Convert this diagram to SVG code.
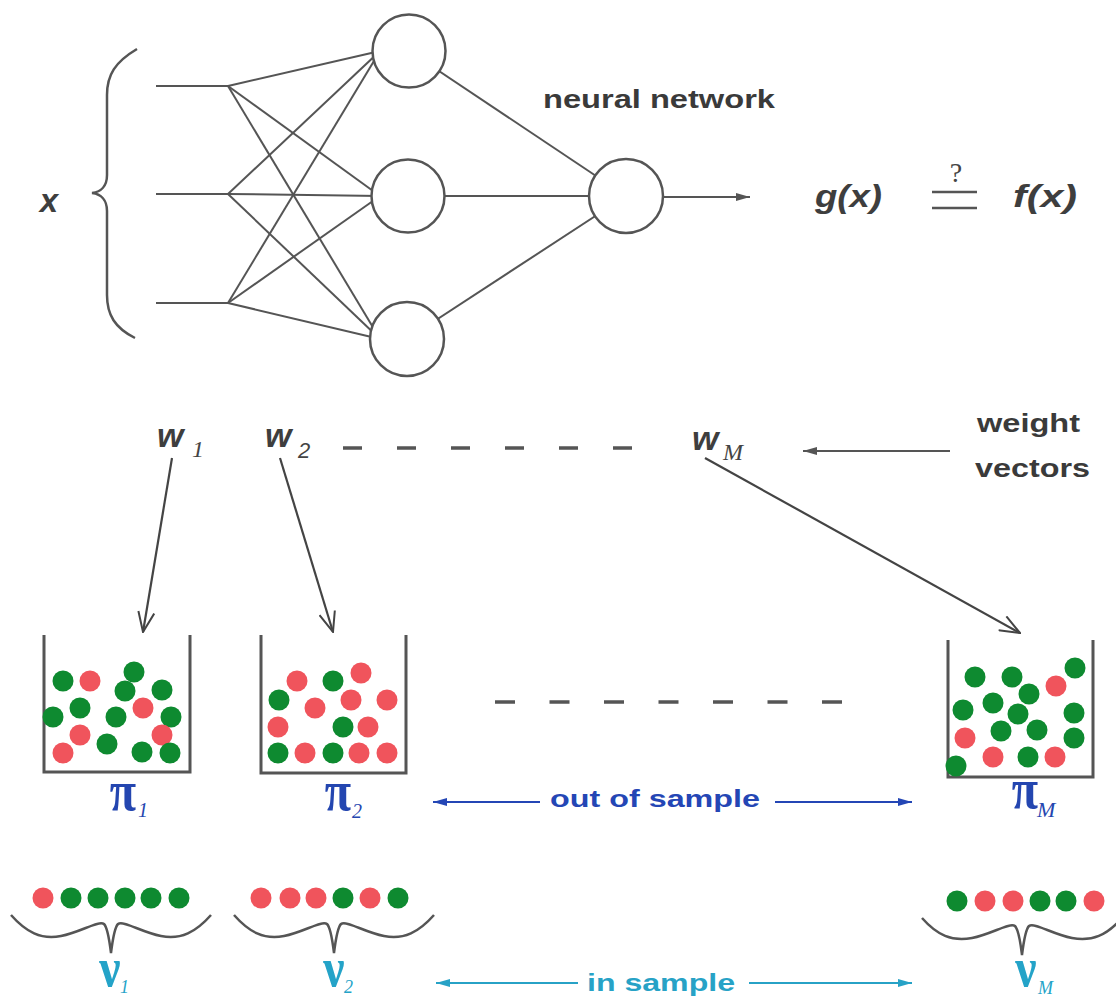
<svg xmlns="http://www.w3.org/2000/svg" width="1116" height="1000" viewBox="0 0 1116 1000">
<style>
.ln{stroke:#555;stroke-width:2;fill:none}
.node{fill:#fff;stroke:#555;stroke-width:2.5}
.lbl{font-family:"Liberation Sans",Arial,sans-serif;font-weight:bold;fill:#3a3a3a}
.math{font-family:"Liberation Sans",Arial,sans-serif;font-weight:bold;font-style:italic;fill:#3e3e3e}
.subs{font-family:"Liberation Sans",Arial,sans-serif;font-style:italic;fill:#444}
.subM{font-family:"Liberation Serif","Times New Roman",serif;font-style:italic;fill:#444}
.bin{fill:none;stroke:#555;stroke-width:3}
.g{fill:#0e8a30}
.r{fill:#f0545c}
.dash{stroke:#555;stroke-width:3.5}
.brace{fill:none;stroke:#555;stroke-width:2.5}
.pi{font-family:"Liberation Serif","Times New Roman",serif;fill:#2446b0}
.nu{font-family:"Liberation Serif","Times New Roman",serif;fill:#24a3c8}
.big{font-weight:bold;font-size:48px}
.bignu{font-weight:bold;font-size:56px}
.blue{fill:#2446b5}
.cyan{fill:#27a2c6}
</style>
<defs>
<marker id="open" viewBox="0 0 22 18" refX="21" refY="9" markerWidth="22" markerHeight="18" markerUnits="userSpaceOnUse" orient="auto">
<path d="M1,1 L21,9 L1,17" fill="none" stroke="#444" stroke-width="2"/>
</marker>
<marker id="ag" viewBox="0 0 14 8" refX="14" refY="4" markerWidth="14" markerHeight="8" markerUnits="userSpaceOnUse" orient="auto">
<path d="M0,0 L14,4 L0,8 z" fill="#555"/>
</marker>
<marker id="ab" viewBox="0 0 14 8" refX="14" refY="4" markerWidth="14" markerHeight="8" markerUnits="userSpaceOnUse" orient="auto">
<path d="M0,0 L14,4 L0,8 z" fill="#2446b5"/>
</marker>
<marker id="ac" viewBox="0 0 14 8" refX="14" refY="4" markerWidth="14" markerHeight="8" markerUnits="userSpaceOnUse" orient="auto">
<path d="M0,0 L14,4 L0,8 z" fill="#27a2c6"/>
</marker>
</defs>
<rect width="1116" height="1000" fill="#fff"/>

<g id="connectors">
<line class="ln" x1="156" y1="86" x2="228" y2="86"/>
<line class="ln" x1="156" y1="194" x2="228" y2="194"/>
<line class="ln" x1="156" y1="303" x2="228" y2="303"/>
<line class="ln" x1="228" y1="86" x2="380" y2="51"/>
<line class="ln" x1="228" y1="86" x2="380" y2="196"/>
<line class="ln" x1="228" y1="86" x2="380" y2="339"/>
<line class="ln" x1="228" y1="194" x2="380" y2="51"/>
<line class="ln" x1="228" y1="194" x2="380" y2="196"/>
<line class="ln" x1="228" y1="194" x2="380" y2="339"/>
<line class="ln" x1="228" y1="303" x2="380" y2="51"/>
<line class="ln" x1="228" y1="303" x2="380" y2="196"/>
<line class="ln" x1="228" y1="303" x2="380" y2="339"/>
<line class="ln" x1="409" y1="51" x2="626" y2="196"/>
<line class="ln" x1="408" y1="196" x2="626" y2="196"/>
<line class="ln" x1="407" y1="339" x2="626" y2="196"/>
<line class="ln" x1="663" y1="197" x2="750" y2="197" marker-end="url(#ag)"/>
<line class="ln" x1="950" y1="451" x2="803" y2="451" marker-end="url(#ag)"/>
<line x1="172" y1="458" x2="143" y2="632" stroke="#444" stroke-width="2.2" marker-end="url(#open)"/>
<line x1="280" y1="458" x2="333" y2="632" stroke="#444" stroke-width="2.2" marker-end="url(#open)"/>
<line x1="705" y1="458" x2="1020" y2="633" stroke="#444" stroke-width="2.2" marker-end="url(#open)"/>
<line x1="540" y1="802" x2="433" y2="802" stroke="#2446b5" stroke-width="2" marker-end="url(#ab)"/>
<line x1="775" y1="802" x2="912" y2="802" stroke="#2446b5" stroke-width="2" marker-end="url(#ab)"/>
<line x1="578" y1="983" x2="436" y2="983" stroke="#27a2c6" stroke-width="2" marker-end="url(#ac)"/>
<line x1="749" y1="983" x2="912" y2="983" stroke="#27a2c6" stroke-width="2" marker-end="url(#ac)"/>
</g>

<g id="input-x">
<text class="math" x="49" y="212" font-size="33" text-anchor="middle">x</text>
<path class="brace" d="M137 49 C115 62 107 75 107 95 L107 175 C107 186 101 192 92 193 C101 194 107 200 107 211 L107 295 C107 315 115 328 135 338"/>
</g>

<g id="hidden-1"><circle class="node" cx="409" cy="51" r="36.5"/></g>
<g id="hidden-2"><circle class="node" cx="408" cy="196" r="36.5"/></g>
<g id="hidden-3"><circle class="node" cx="407" cy="339" r="37"/></g>
<g id="output"><circle class="node" cx="626" cy="196" r="37"/></g>

<g id="nn-label"><text class="lbl" x="543" y="108" font-size="26" textLength="232" lengthAdjust="spacingAndGlyphs">neural network</text></g>

<g id="equation">
<text class="math" x="815" y="207" font-size="32" textLength="67" lengthAdjust="spacingAndGlyphs">g(x)</text>
<text x="956" y="182" font-size="28" text-anchor="middle" font-family="Liberation Serif, Times New Roman, serif" fill="#444">?</text>
<line x1="932" y1="192" x2="977" y2="192" stroke="#555" stroke-width="2.5"/>
<line x1="932" y1="208" x2="977" y2="208" stroke="#555" stroke-width="2.5"/>
<text class="math" x="1013" y="207" font-size="32" textLength="64" lengthAdjust="spacingAndGlyphs">f(x)</text>
</g>

<g id="w1"><text class="math" x="157" y="447" font-size="34">w</text><text class="subM" x="192" y="457" font-size="24">1</text></g>
<g id="w2"><text class="math" x="265" y="447" font-size="34">w</text><text class="subs" x="298" y="458" font-size="22">2</text></g>
<g id="w-dashes"><line class="dash" x1="343" y1="448" x2="633" y2="448" stroke-dasharray="19 35"/></g>
<g id="wM"><text class="math" x="692" y="450" font-size="34">w</text><text class="subM" x="723" y="460" font-size="24">M</text></g>
<g id="weight-label">
<text class="lbl" x="977" y="432" font-size="26" textLength="103" lengthAdjust="spacingAndGlyphs">weight</text>
<text class="lbl" x="975" y="477" font-size="26" textLength="115" lengthAdjust="spacingAndGlyphs">vectors</text>
</g>

<g id="bin1">
<path class="bin" d="M44 635 V772 H190 V635"/>
<circle class="g" cx="63" cy="681" r="10.5"/><circle class="r" cx="90" cy="681" r="10.5"/>
<circle class="g" cx="134" cy="672" r="10.5"/><circle class="g" cx="125" cy="691" r="10.5"/>
<circle class="g" cx="162" cy="690" r="10.5"/><circle class="g" cx="80" cy="708" r="10.5"/>
<circle class="g" cx="53" cy="717" r="10.5"/><circle class="g" cx="116" cy="717" r="10.5"/>
<circle class="r" cx="143" cy="708" r="10.5"/><circle class="g" cx="171" cy="717" r="10.5"/>
<circle class="r" cx="80" cy="735" r="10.5"/><circle class="r" cx="162" cy="735" r="10.5"/>
<circle class="g" cx="107" cy="744" r="10.5"/><circle class="r" cx="63" cy="753" r="10.5"/>
<circle class="g" cx="142" cy="752" r="10.5"/><circle class="g" cx="170" cy="753" r="10.5"/>
<text class="pi big" text-anchor="middle" transform="translate(123 810) scale(1 1.2)">π</text><text class="pi" x="138" y="817" font-size="20" font-style="italic">1</text>
</g>

<g id="bin2">
<path class="bin" d="M261 635 V773 H406 V635"/>
<circle class="r" cx="297" cy="681" r="10.5"/><circle class="r" cx="361" cy="673" r="10.5"/>
<circle class="g" cx="333" cy="681" r="10.5"/><circle class="g" cx="279" cy="700" r="10.5"/>
<circle class="r" cx="351" cy="700" r="10.5"/><circle class="r" cx="387" cy="700" r="10.5"/>
<circle class="r" cx="315" cy="708" r="10.5"/><circle class="r" cx="278" cy="727" r="10.5"/>
<circle class="g" cx="343" cy="727" r="10.5"/><circle class="r" cx="368" cy="727" r="10.5"/>
<circle class="g" cx="278" cy="753" r="10.5"/><circle class="r" cx="305" cy="753" r="10.5"/>
<circle class="g" cx="333" cy="753" r="10.5"/><circle class="r" cx="359" cy="753" r="10.5"/>
<circle class="r" cx="387" cy="753" r="10.5"/>
<text class="pi big" text-anchor="middle" transform="translate(338 810) scale(1 1.2)">π</text><text class="pi" x="352" y="818" font-size="20" font-style="italic">2</text>
</g>

<g id="bin-dashes"><line class="dash" x1="495" y1="702" x2="842" y2="702" stroke-dasharray="20 34.5"/></g>

<g id="binM">
<path class="bin" d="M948 640 V777 H1093 V640"/>
<circle class="g" cx="975" cy="677" r="10.5"/><circle class="g" cx="1012" cy="677" r="10.5"/>
<circle class="g" cx="1075" cy="668" r="10.5"/><circle class="r" cx="1056" cy="686" r="10.5"/>
<circle class="g" cx="1029" cy="694" r="10.5"/><circle class="g" cx="993" cy="703" r="10.5"/>
<circle class="g" cx="963" cy="710" r="10.5"/><circle class="g" cx="1018" cy="714" r="10.5"/>
<circle class="g" cx="1074" cy="713" r="10.5"/><circle class="g" cx="1001" cy="731" r="10.5"/>
<circle class="g" cx="1037" cy="730" r="10.5"/><circle class="g" cx="1074" cy="738" r="10.5"/>
<circle class="r" cx="965" cy="738" r="10.5"/><circle class="r" cx="993" cy="757" r="10.5"/>
<circle class="g" cx="1028" cy="757" r="10.5"/><circle class="r" cx="1055" cy="757" r="10.5"/>
<circle class="g" cx="956" cy="766" r="10.5"/>
<text class="pi big" text-anchor="middle" transform="translate(1025 808) scale(1 1.2)">π</text><text class="pi" x="1037" y="817" font-size="22" font-style="italic">M</text>
</g>

<g id="out-sample-label"><text class="lbl blue" x="550" y="807" font-size="24" textLength="210" lengthAdjust="spacingAndGlyphs">out of sample</text></g>

<g id="sample1">
<circle class="r" cx="43" cy="898" r="10.5"/><circle class="g" cx="71" cy="898" r="10.5"/>
<circle class="g" cx="98" cy="898" r="10.5"/><circle class="g" cx="125" cy="898" r="10.5"/>
<circle class="g" cx="151" cy="898" r="10.5"/><circle class="g" cx="179" cy="898" r="10.5"/>
<path class="brace" d="M11 915 C26 932 41 940 61 936 C81 932 99 920 104 924 C108 928 110 945 111 953 C112 945 114 928 118 924 C123 920 141 932 161 936 C181 940 196 932 211 915"/>
<text class="nu bignu" text-anchor="middle" transform="translate(110 986) scale(0.85 1)">ν</text><text class="nu" x="120" y="993" font-size="18" font-style="italic">1</text>
</g>

<g id="sample2">
<circle class="r" cx="261" cy="898" r="10.5"/><circle class="r" cx="290" cy="898" r="10.5"/>
<circle class="r" cx="316" cy="898" r="10.5"/><circle class="g" cx="343" cy="898" r="10.5"/>
<circle class="r" cx="370" cy="898" r="10.5"/><circle class="g" cx="398" cy="898" r="10.5"/>
<path class="brace" d="M234 915 C249 932 264 940 284 936 C304 932 322 920 327 924 C331 928 333 945 334 953 C335 945 337 928 341 924 C346 920 364 932 384 936 C404 940 419 932 434 915"/>
<text class="nu bignu" text-anchor="middle" transform="translate(334 986) scale(0.85 1)">ν</text><text class="nu" x="344" y="993" font-size="18" font-style="italic">2</text>
</g>

<g id="sampleM">
<circle class="g" cx="957" cy="901" r="10.5"/><circle class="r" cx="985" cy="901" r="10.5"/>
<circle class="r" cx="1013" cy="901" r="10.5"/><circle class="g" cx="1040" cy="901" r="10.5"/>
<circle class="g" cx="1066" cy="901" r="10.5"/><circle class="r" cx="1094" cy="901" r="10.5"/>
<path class="brace" d="M922 918 C937 935 952 942 972 938 C992 934 1010 922 1015 926 C1019 930 1021 947 1022 955 C1023 947 1025 930 1029 926 C1034 922 1052 934 1072 938 C1092 942 1107 935 1122 918"/>
<text class="nu bignu" text-anchor="middle" transform="translate(1026 986) scale(0.85 1)">ν</text><text class="nu" x="1038" y="994" font-size="18" font-style="italic">M</text>
</g>

<g id="in-sample-label"><text class="lbl cyan" x="587" y="991" font-size="24" textLength="148" lengthAdjust="spacingAndGlyphs">in sample</text></g>
</svg>
